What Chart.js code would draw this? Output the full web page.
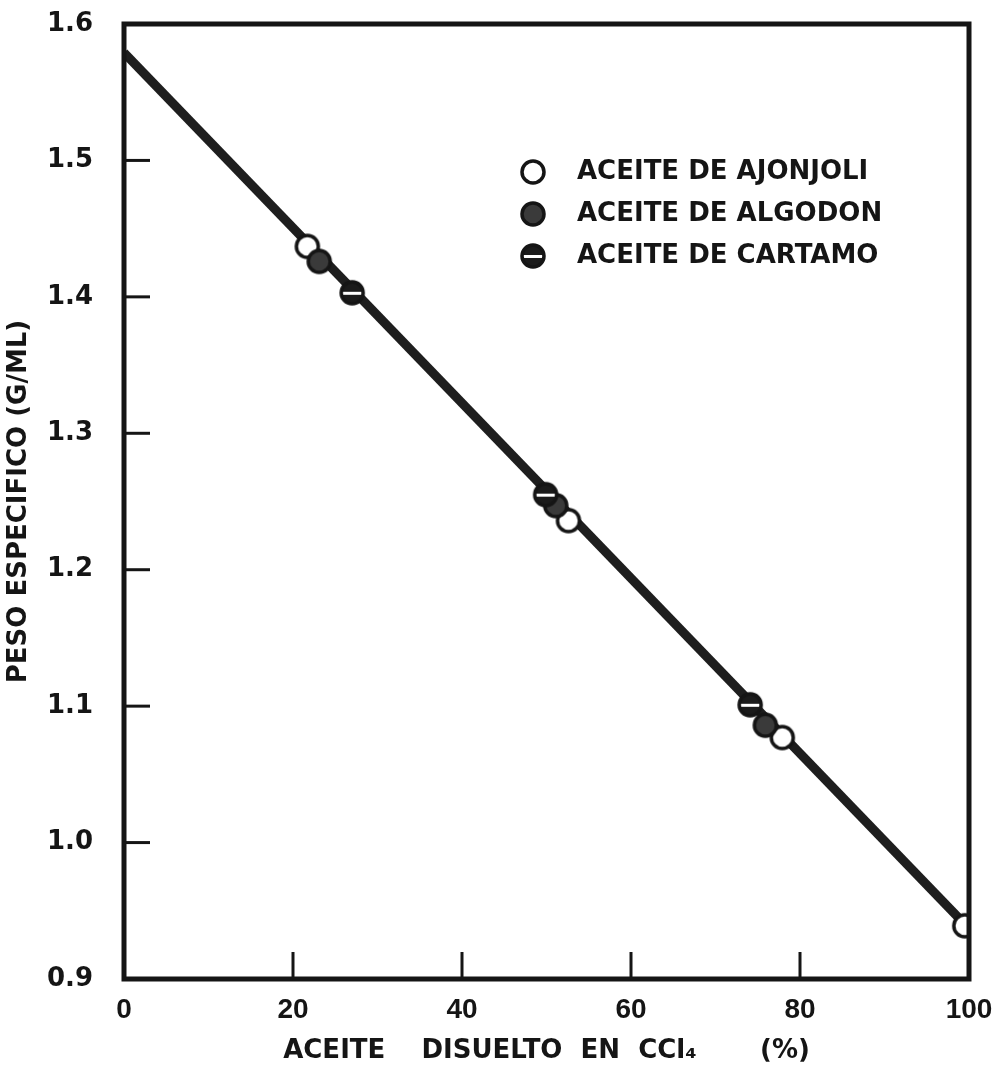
<!DOCTYPE html>
<html>
<head>
<meta charset="utf-8">
<script src="https://cdn.jsdelivr.net/npm/chart.js@4.4.0/dist/chart.umd.min.js"></script>
<style>
  html, body { margin: 0; padding: 0; background: #fff; }
</style>
</head>
<body>
<canvas id="pesoChart" width="994" height="1069"></canvas>
<script>
// values
const lineX = [0, 100];
const lineY = [1.579, 0.937];

const ajonjoliX = [21.7, 52.6, 77.9, 99.5];
const ajonjoliY = [1.437, 1.236, 1.077, 0.939];

const algodonX = [23.1, 51.1, 75.9];
const algodonY = [1.426, 1.247, 1.086];

const cartamoX = [27.0, 49.9, 74.1];
const cartamoY = [1.403, 1.255, 1.101];

const xTicks = [0, 20, 40, 60, 80, 100];
const yTicks = [0.9, 1.0, 1.1, 1.2, 1.3, 1.4, 1.5, 1.6];

const legendLabels = ['ACEITE DE AJONJOLI', 'ACEITE DE ALGODON', 'ACEITE DE CARTAMO'];

const INK = '#151515';
const FONT = 'DejaVu Sans';

function toPoints(xs, ys) {
    return xs.map((x, i) => ({ x: x, y: ys[i] }));
}

// little canvases used as point markers
function makeMarker(kind) {
    const c = document.createElement('canvas');
    c.width = 30;
    c.height = 30;
    const g = c.getContext('2d');
    g.beginPath();
    g.arc(15, 15, 11, 0, Math.PI * 2);
    if (kind === 'open') {
        g.fillStyle = '#fff';
    } else if (kind === 'grey') {
        g.fillStyle = '#3a3a3a';
    } else {
        g.fillStyle = '#1b1b1b';
    }
    g.fill();
    if (kind === 'band') {
        g.save();
        g.clip();
        g.fillStyle = '#fff';
        g.fillRect(4, 14, 22, 3);
        g.restore();
    }
    g.lineWidth = 3.5;
    g.strokeStyle = INK;
    g.stroke();
    return c;
}

const markers = [makeMarker('open'), makeMarker('grey'), makeMarker('band')];

// box, inside ticks and the legend drawn inside the plot
const framePlugin = {
    id: 'frame',
    afterDatasetsDraw(chart) {
        const ctx = chart.ctx;
        const a = chart.chartArea;
        const xs = chart.scales.x;
        const ys = chart.scales.y;
        ctx.save();
        ctx.strokeStyle = INK;
        ctx.lineWidth = 3;
        xTicks.slice(1, -1).forEach(v => {
            const px = xs.getPixelForValue(v);
            ctx.beginPath();
            ctx.moveTo(px, a.bottom);
            ctx.lineTo(px, a.bottom - 27);
            ctx.stroke();
        });
        yTicks.slice(1, -1).forEach(v => {
            const py = ys.getPixelForValue(v);
            ctx.beginPath();
            ctx.moveTo(a.left, py);
            ctx.lineTo(a.left + 26, py);
            ctx.stroke();
        });
        ctx.lineWidth = 5;
        ctx.strokeRect(a.left, a.top, a.right - a.left, a.bottom - a.top);

        // legend
        ctx.font = 'bold 26px "' + FONT + '"';
        ctx.fillStyle = INK;
        ctx.textBaseline = 'middle';
        ctx.textAlign = 'left';
        legendLabels.forEach((txt, i) => {
            const cy = a.top + 148 + i * 42;
            const m = markers[i];
            ctx.drawImage(m, a.left + 409 - m.width / 2, cy - m.height / 2);
            ctx.fillText(txt, a.left + 453, cy);
        });
        ctx.restore();
    }
};

const ctx = document.getElementById('pesoChart').getContext('2d');

new Chart(ctx, {
    type: 'scatter',
    data: {
        datasets: [
            {
                label: legendLabels[0],
                data: toPoints(ajonjoliX, ajonjoliY),
                pointStyle: markers[0],
                order: 3
            },
            {
                label: legendLabels[1],
                data: toPoints(algodonX, algodonY),
                pointStyle: markers[1],
                order: 2
            },
            {
                label: legendLabels[2],
                data: toPoints(cartamoX, cartamoY),
                pointStyle: markers[2],
                order: 1
            },
            {
                type: 'line',
                label: 'ajuste',
                data: toPoints(lineX, lineY),
                borderColor: '#1e1e1e',
                borderWidth: 9,
                pointRadius: 0,
                fill: false,
                order: 10
            }
        ]
    },
    options: {
        responsive: false,
        animation: false,
        events: [],
        layout: {
            padding: { top: 24, right: 25, left: 0, bottom: 0 }
        },
        plugins: {
            legend: { display: false },
            tooltip: { enabled: false }
        },
        scales: {
            x: {
                type: 'linear',
                min: 0,
                max: 100,
                afterFit: s => {
                    s.height = 90;
                    s.paddingLeft = 0;
                    s.paddingRight = 0;
                },
                afterBuildTicks: s => { s.ticks = xTicks.map(v => ({ value: v })); },
                grid: { display: false, drawTicks: false },
                border: { display: false },
                ticks: {
                    padding: 14,
                    color: INK,
                    maxRotation: 0,
                    font: { family: 'Liberation Sans', size: 28, weight: 'bold' }
                },
                title: {
                    display: true,
                    text: 'ACEITE    DISUELTO  EN  CCl\u2084       (%)',
                    color: INK,
                    padding: { top: 0, bottom: 2 },
                    font: { family: FONT, size: 26, weight: 'bold' }
                }
            },
            y: {
                type: 'linear',
                min: 0.9,
                max: 1.6,
                afterFit: s => {
                    s.width = 124;
                    s.paddingTop = 0;
                    s.paddingBottom = 0;
                },
                afterBuildTicks: s => { s.ticks = yTicks.map(v => ({ value: v })); },
                grid: { display: false, drawTicks: false },
                border: { display: false },
                ticks: {
                    padding: 31,
                    color: INK,
                    font: { family: FONT, size: 26, weight: 'bold' },
                    callback: v => v.toFixed(1)
                },
                title: {
                    display: true,
                    text: 'PESO ESPECIFICO (G/ML)',
                    color: INK,
                    padding: { top: 4, bottom: 0 },
                    font: { family: FONT, size: 26, weight: 'bold' }
                }
            }
        }
    },
    plugins: [framePlugin]
});
</script>
</body>
</html>
